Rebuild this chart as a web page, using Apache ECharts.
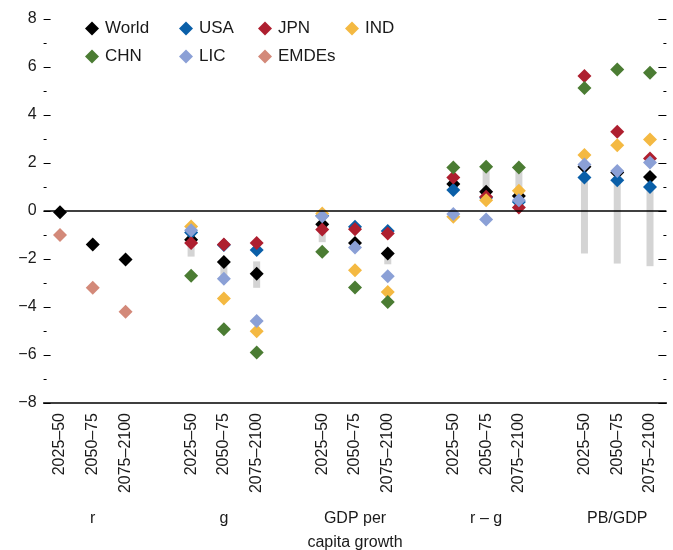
<!DOCTYPE html>
<html>
<head>
<meta charset="utf-8">
<script src="https://cdn.jsdelivr.net/npm/echarts@6/dist/echarts.min.js"></script>
<style>
  html, body { margin: 0; padding: 0; background: #ffffff; }
  #chart { width: 673px; height: 550px; }
</style>
</head>
<body>
<div id="chart"></div>
<script>
// Periods shown under every indicator, and the indicator groups themselves
const periods = ['2025–50', '2050–75', '2075–2100'];
const groups = ['r', 'g', 'GDP per\ncapita growth', 'r – g', 'PB/GDP'];

// Values per group × period (r, g, GDP per capita growth, r − g, PB/GDP), percent
const world = [-0.05, -1.4, -2.02,  -1.2, -2.13, -2.61,  -0.55, -1.33, -1.77,  1.12, 0.8, 0.63,  1.84, 1.6, 1.42];
const usa   = [null, null, null,    -0.9, -1.42, -1.63,  -0.2, -0.66, -0.83,   0.87, 0.55, 0.38, 1.4, 1.28, 1.0];
const jpn   = [null, null, null,    -1.33, -1.4, -1.33,  -0.77, -0.76, -0.94,  1.4, 0.59, 0.15,  5.62, 3.3, 2.19];
const ind   = [null, null, null,    -0.65, -3.65, -5.01, -0.1, -2.47, -3.37,   -0.24, 0.45, 0.84, 2.33, 2.74, 2.98];
const chn   = [null, null, null,    -2.7, -4.93, -5.9,   -1.7, -3.19, -3.79,   1.81, 1.84, 1.81, 5.13, 5.9, 5.76];
const lic   = [null, null, null,    -0.8, -2.82, -4.58,  -0.22, -1.52, -2.72,  -0.13, -0.35, 0.45, 1.94, 1.67, 2.02];
const emdes = [-1.0, -3.2, -4.2,    null, null, null,    null, null, null,     null, null, null, null, null, null];

// Shaded ranges [low, high] per group × period
const rangeLow  = [null, null, null,  -1.9, -2.7, -3.2,  -1.3, null, -2.22,  null, 0.8, 0.63,  -1.77, -2.19, -2.3];
const rangeHigh = [null, null, null,  -1.2, -2.1, -2.1,  -0.5, null, -1.8,   null, 1.84, 1.81, 1.4, 1.3, 1.0];

const seriesDefs = [
  { name: 'World', values: world, color: '#000000' },
  { name: 'USA',   values: usa,   color: '#0A5FA8' },
  { name: 'JPN',   values: jpn,   color: '#AE1F2F' },
  { name: 'IND',   values: ind,   color: '#F4B942' },
  { name: 'CHN',   values: chn,   color: '#4B7C33' },
  { name: 'LIC',   values: lic,   color: '#8BA0D6' },
  { name: 'EMDEs', values: emdes, color: '#D38979' }
];

// Category slots: three periods per group, with an empty slot between groups
const slotLabels = [];
const groupLabels = [];
const slotOf = [];
groups.forEach((g, gi) => {
  periods.forEach((p, pi) => {
    slotOf.push(slotLabels.length);
    slotLabels.push(p);
    groupLabels.push(pi === 1 ? g : '');
  });
  if (gi < groups.length - 1) {
    slotLabels.push('');
    groupLabels.push('');
  }
});

const FONT = "'Liberation Sans', Arial, sans-serif";

const scatterSeries = seriesDefs.map(s => ({
  name: s.name,
  type: 'scatter',
  symbol: 'diamond',
  symbolSize: 14,
  itemStyle: { color: s.color, opacity: 1 },
  z: 3,
  data: s.values.map((v, i) => (v === null ? null : [slotOf[i], v])).filter(d => d !== null)
}));

const rangeData = rangeLow.map((lo, i) => (lo === null ? null : [slotOf[i], lo, rangeHigh[i]])).filter(d => d !== null);

const rangeSeries = {
  name: 'range',
  type: 'custom',
  z: 1,
  renderItem: function (params, api) {
    const top = api.coord([api.value(0), api.value(2)]);
    const bottom = api.coord([api.value(0), api.value(1)]);
    const w = 7;
    return {
      type: 'rect',
      shape: { x: top[0] - w / 2, y: top[1], width: w, height: bottom[1] - top[1] },
      style: { fill: '#D4D4D4' }
    };
  },
  encode: { x: 0, y: [1, 2] },
  data: rangeData,
  markLine: {
    silent: true,
    symbol: 'none',
    label: { show: false },
    lineStyle: { color: '#000000', width: 1.5, type: 'solid' },
    data: [{ yAxis: 0 }]
  }
};

const legendCols = [
  { data: ['World', 'CHN'], left: 85 },
  { data: ['USA', 'LIC'], left: 179 },
  { data: ['JPN', 'EMDEs'], left: 258 },
  { data: ['IND'], left: 345 }
];

const option = {
  animation: false,
  backgroundColor: '#ffffff',
  grid: { left: 43.6, right: 6.6, top: 19, bottom: 147, containLabel: false, outerBoundsMode: 'none' },
  legend: legendCols.map(c => ({
    data: c.data,
    orient: 'vertical',
    left: c.left,
    top: 20,
    icon: 'diamond',
    itemWidth: 14,
    itemHeight: 14,
    itemGap: 11,
    selectedMode: false,
    padding: 0,
    textStyle: { fontFamily: FONT, fontSize: 17, color: '#1a1a1a', padding: [0, 0, 0, 1] }
  })),
  xAxis: [
    {
      type: 'category',
      data: slotLabels,
      position: 'bottom',
      boundaryGap: true,
      axisLine: { show: true, onZero: false, lineStyle: { color: '#000000', width: 1.5 } },
      axisTick: { show: false },
      splitLine: { show: false },
      axisLabel: {
        interval: 0,
        rotate: 90,
        margin: 10,
        fontFamily: FONT,
        fontSize: 16,
        color: '#1a1a1a'
      }
    },
    {
      type: 'category',
      data: groupLabels,
      position: 'bottom',
      boundaryGap: true,
      axisLine: { show: false, onZero: false },
      axisTick: { show: false },
      splitLine: { show: false },
      axisLabel: {
        interval: 0,
        margin: 104,
        fontFamily: FONT,
        fontSize: 16,
        lineHeight: 24,
        color: '#1a1a1a'
      }
    }
  ],
  yAxis: [
    {
      type: 'value',
      position: 'left',
      min: -8,
      max: 8,
      interval: 2,
      axisLine: { show: false },
      axisTick: { show: true, inside: true, length: 7, lineStyle: { color: '#000000', width: 1 } },
      minorTick: { show: true, splitNumber: 2, length: 3, lineStyle: { color: '#000000', width: 1 } },
      splitLine: { show: false },
      minorSplitLine: { show: false },
      axisLabel: {
        margin: 7,
        fontFamily: FONT,
        fontSize: 16,
        color: '#1a1a1a',
        formatter: v => (v < 0 ? '\u2212' + Math.abs(v) : String(v))
      }
    },
    {
      type: 'value',
      position: 'right',
      min: -8,
      max: 8,
      interval: 2,
      axisLine: { show: false },
      axisTick: { show: true, inside: true, length: 8, lineStyle: { color: '#000000', width: 1 } },
      minorTick: { show: true, splitNumber: 2, length: 3, lineStyle: { color: '#000000', width: 1 } },
      splitLine: { show: false },
      axisLabel: { show: false }
    }
  ],
  series: [rangeSeries].concat(scatterSeries)
};

const chart = echarts.init(document.getElementById('chart'), null, { renderer: 'canvas' });
chart.setOption(option);
</script>
</body>
</html>
